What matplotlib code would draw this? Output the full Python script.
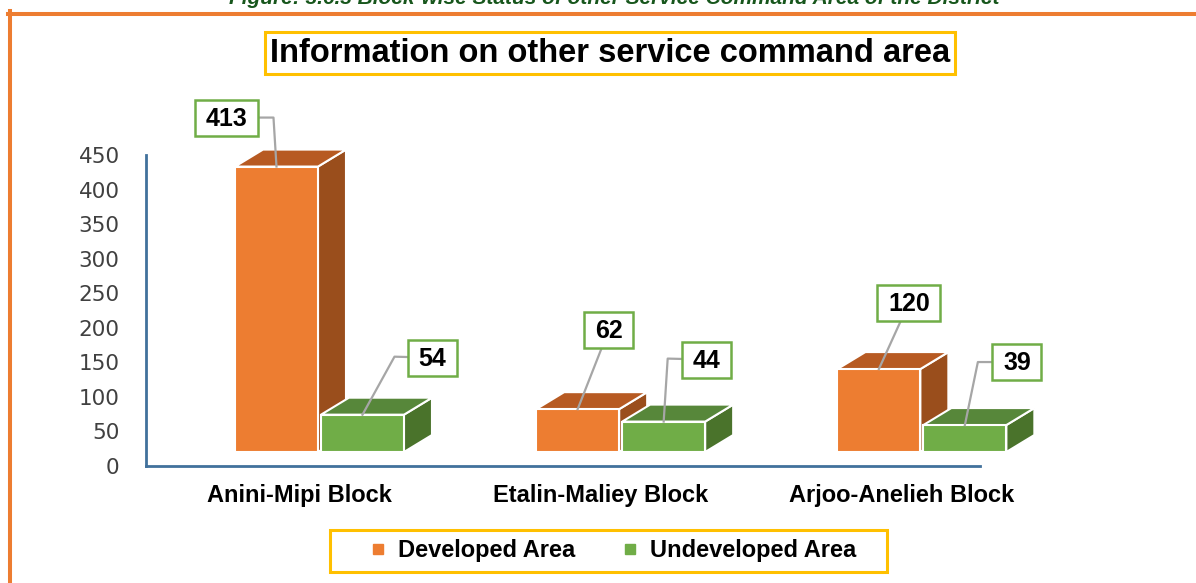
import matplotlib
matplotlib.use("Agg")
import matplotlib.pyplot as plt
from matplotlib.patches import Polygon, Rectangle
from matplotlib.lines import Line2D
from matplotlib.transforms import ScaledTranslation

# data
blocks = ["Anini-Mipi Block", "Etalin-Maliey Block", "Arjoo-Anelieh Block"]
developed = [413, 62, 120]
undeveloped = [54, 44, 39]
series_names = ["Developed Area", "Undeveloped Area"]
y_ticks = [0, 50, 100, 150, 200, 250, 300, 350, 400, 450]

W, H, DPI = 1196, 583, 100
fig = plt.figure(figsize=(W / DPI, H / DPI), dpi=DPI)
fig.patch.set_facecolor("white")

# plot area in pixels: x 146..980, y 155..466
ax = fig.add_axes([146 / W, 1 - 466 / H, (980 - 146) / W, (466 - 155) / H])
ax.set_xlim(-0.576, 2.193)
ax.set_ylim(0, 450)

px_x = (980 - 146) / (2.193 + 0.576)
px_y = (466 - 155) / 450
bar_w = 83 / px_x
gap = 3 / px_x
depth_x = 28 / px_x
depth_y = 17 / px_y
lift = ScaledTranslation(0, 14 / DPI, fig.dpi_scale_trans)
tr = ax.transData + lift

# front, top, side colours
dev_cols = ("#ED7D31", "#B75A22", "#9A4E1C")
und_cols = ("#70AD47", "#57873A", "#4A732B")


def box3d(x0, v, cols):
    x1 = x0 + bar_w
    front = [(x0, 0), (x1, 0), (x1, v), (x0, v)]
    top = [(x0, v), (x1, v), (x1 + depth_x, v + depth_y), (x0 + depth_x, v + depth_y)]
    side = [(x1, 0), (x1 + depth_x, depth_y), (x1 + depth_x, v + depth_y), (x1, v)]
    for pts, c in ((side, cols[2]), (top, cols[1]), (front, cols[0])):
        ax.add_patch(Polygon(pts, closed=True, facecolor=c, edgecolor="white",
                             linewidth=1.5, transform=tr, zorder=3, clip_on=False))


anchors = []
for i in range(len(blocks)):
    xd = i - gap / 2 - bar_w
    xu = i + gap / 2
    box3d(xd, developed[i], dev_cols)
    box3d(xu, undeveloped[i], und_cols)
    anchors.append((xd + bar_w / 2, developed[i]))
    anchors.append((xu + bar_w / 2, undeveloped[i]))

values = [v for pair in zip(developed, undeveloped) for v in pair]

# axes styling
for s in ["top", "right"]:
    ax.spines[s].set_visible(False)
for s in ["left", "bottom"]:
    ax.spines[s].set_color("#41719C")
    ax.spines[s].set_linewidth(2)
ax.set_yticks(y_ticks)
ax.set_yticklabels([str(t) for t in y_ticks], fontsize=15.5, family="DejaVu Sans", color="#404040")
ax.tick_params(axis="y", length=0, pad=19)
ax.set_xticks(range(len(blocks)))
ax.set_xticklabels(blocks, fontsize=17, fontweight="bold", family="Liberation Sans")
ax.tick_params(axis="x", length=0, pad=13)
shift = ScaledTranslation(-20 / DPI, 0, fig.dpi_scale_trans)
for lab in ax.get_xticklabels():
    lab.set_transform(lab.get_transform() + shift)

# data labels: box offsets and leader elbows in pixels (x right, y down)
label_offsets = [(-50, -49), (70, -57), (31, -79), (43, -62), (30, -66), (52, -63)]
elbows = [(-3, -49), (32, -58), None, (4, -63), None, (13, -63)]

renderer = fig.canvas.get_renderer()
for (xa, va), v, off, elb in zip(anchors, values, label_offsets, elbows):
    ax_px, ay_px = tr.transform((xa, va))
    bx, by = ax_px + off[0], ay_px - off[1]
    pts = [(bx, by)]
    if elb is not None:
        pts.append((ax_px + elb[0], ay_px - elb[1]))
    pts.append((ax_px, ay_px))
    fig.add_artist(Line2D([p[0] / W for p in pts], [p[1] / H for p in pts],
                          color="#A6A6A6", linewidth=1.6, zorder=4))
    t = fig.text(bx / W, by / H - 1 / H, str(v), ha="center", va="center", fontsize=18,
                 fontweight="bold", family="Liberation Sans", color="black", zorder=6)
    tw = t.get_window_extent(renderer).width
    bw, bh = tw + 21, 36
    fig.add_artist(Rectangle(((bx - bw / 2) / W, (by - bh / 2) / H), bw / W, bh / H,
                             facecolor="white", edgecolor="#70AD47", linewidth=1.8,
                             transform=fig.transFigure, zorder=5))

# title with gold box
fig.text(610 / W, 1 - 53 / H, "Information on other service command area", ha="center",
         va="center", fontsize=23.5, fontweight="bold", family="Liberation Sans",
         bbox=dict(boxstyle="square,pad=0.16", facecolor="white", edgecolor="#FFC000",
                   linewidth=2.2))

# partly cut caption above the frame
fig.text(614 / W, 1 - 4 / H,
         "Figure: 3.6.3 Block-wise Status of other Service Command Area of the District",
         ha="center", va="baseline", fontsize=15, fontweight="bold", style="italic",
         family="Liberation Sans", color="#17561C")

# legend with gold box
handles = [Line2D([], [], marker="s", linestyle="none", markersize=6.5, color=dev_cols[0]),
           Line2D([], [], marker="s", linestyle="none", markersize=6.5, color=und_cols[0])]
fig.legend(handles, series_names, loc="center", bbox_to_anchor=(613 / W, 1 - 551 / H),
           ncol=2, frameon=False, handlelength=0.7, handletextpad=0.5, columnspacing=2.0,
           prop=dict(family="Liberation Sans", weight="bold", size=17))
fig.add_artist(Rectangle((330 / W, 1 - 572 / H), (887 - 330) / W, (572 - 530) / H,
                         facecolor="none", edgecolor="#FFC000", linewidth=2.2,
                         transform=fig.transFigure))

# orange outer frame (top and left edges visible)
fig.add_artist(Line2D([10 / W, 10 / W], [0, 1 - 11 / H], color="#ED7D31", linewidth=2.9))
fig.add_artist(Line2D([8 / W, 1], [1 - 13.5 / H, 1 - 13.5 / H], color="#ED7D31", linewidth=2.9))

fig.savefig("out.png", dpi=DPI)
